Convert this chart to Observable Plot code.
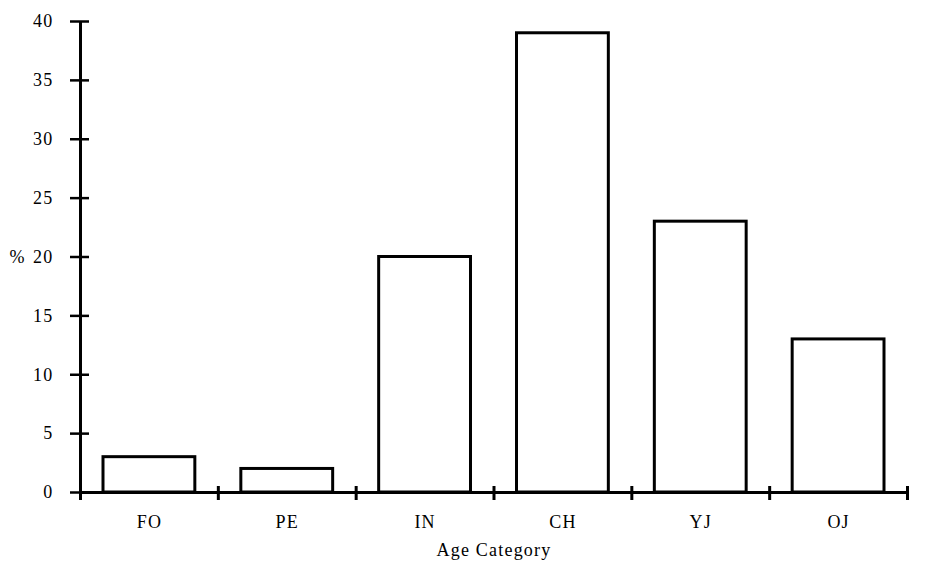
<!DOCTYPE html>
<html>
<head>
<meta charset="utf-8">
<script src="https://cdn.jsdelivr.net/npm/d3@7"></script>
<script src="https://cdn.jsdelivr.net/npm/@observablehq/plot@0.6"></script>
<style>
  html, body { margin: 0; padding: 0; background: #fff; }
  svg { font-family: "Liberation Serif", "Times New Roman", serif; }
  svg text { letter-spacing: 1.2px; }
</style>
</head>
<body>
<div id="chart"></div>
<script>
const categories = ["FO", "PE", "IN", "CH", "YJ", "OJ"];
const values = [3, 2, 20, 39, 23, 13];
const yTicks = [0, 5, 10, 15, 20, 25, 30, 35, 40];
const yLabel = "%";
const xLabel = "Age Category";

const data = categories.map((c, i) => ({category: c, index: i, value: values[i]}));
const boundaries = d3.range(categories.length + 1);

const chart = Plot.plot({
  width: 935,
  height: 577,
  marginLeft: 80,
  marginRight: 28,
  marginTop: 21,
  marginBottom: 85,
  style: {fontFamily: "Liberation Serif, Times New Roman, serif", fontSize: "18px", color: "#000", background: "#fff"},
  x: {type: "linear", domain: [0, categories.length]},
  y: {domain: [0, 40]},
  marks: [
    Plot.rectY(data, {x1: d => d.index, x2: d => d.index + 1, y: "value", fill: "white", stroke: "black", strokeWidth: 3, insetLeft: 23, insetRight: 23}),
    Plot.ruleY([0], {stroke: "black", strokeWidth: 3}),
    Plot.ruleX([0], {y1: 0, y2: 40, stroke: "black", strokeWidth: 3}),
    Plot.axisY({ticks: yTicks, tickSize: 19, dx: 9, tickPadding: 17, strokeWidth: 2.5, stroke: "black", label: null, tickFormat: d => d}),
    Plot.axisX({ticks: boundaries, tickSize: 14, dy: -6, strokeWidth: 3, stroke: "black", tickFormat: () => "", label: null}),
    Plot.text(data, {x: d => d.index + 0.5, y: 0, text: "category", dy: 30, fill: "black"}),
    Plot.text([xLabel], {x: categories.length / 2, y: 0, text: d => d, dy: 58, fill: "black"}),
    Plot.text([yLabel], {x: 0, y: 20, text: d => d, dx: -63, fill: "black"})
  ]
});
document.getElementById("chart").appendChild(chart);
</script>
</body>
</html>
